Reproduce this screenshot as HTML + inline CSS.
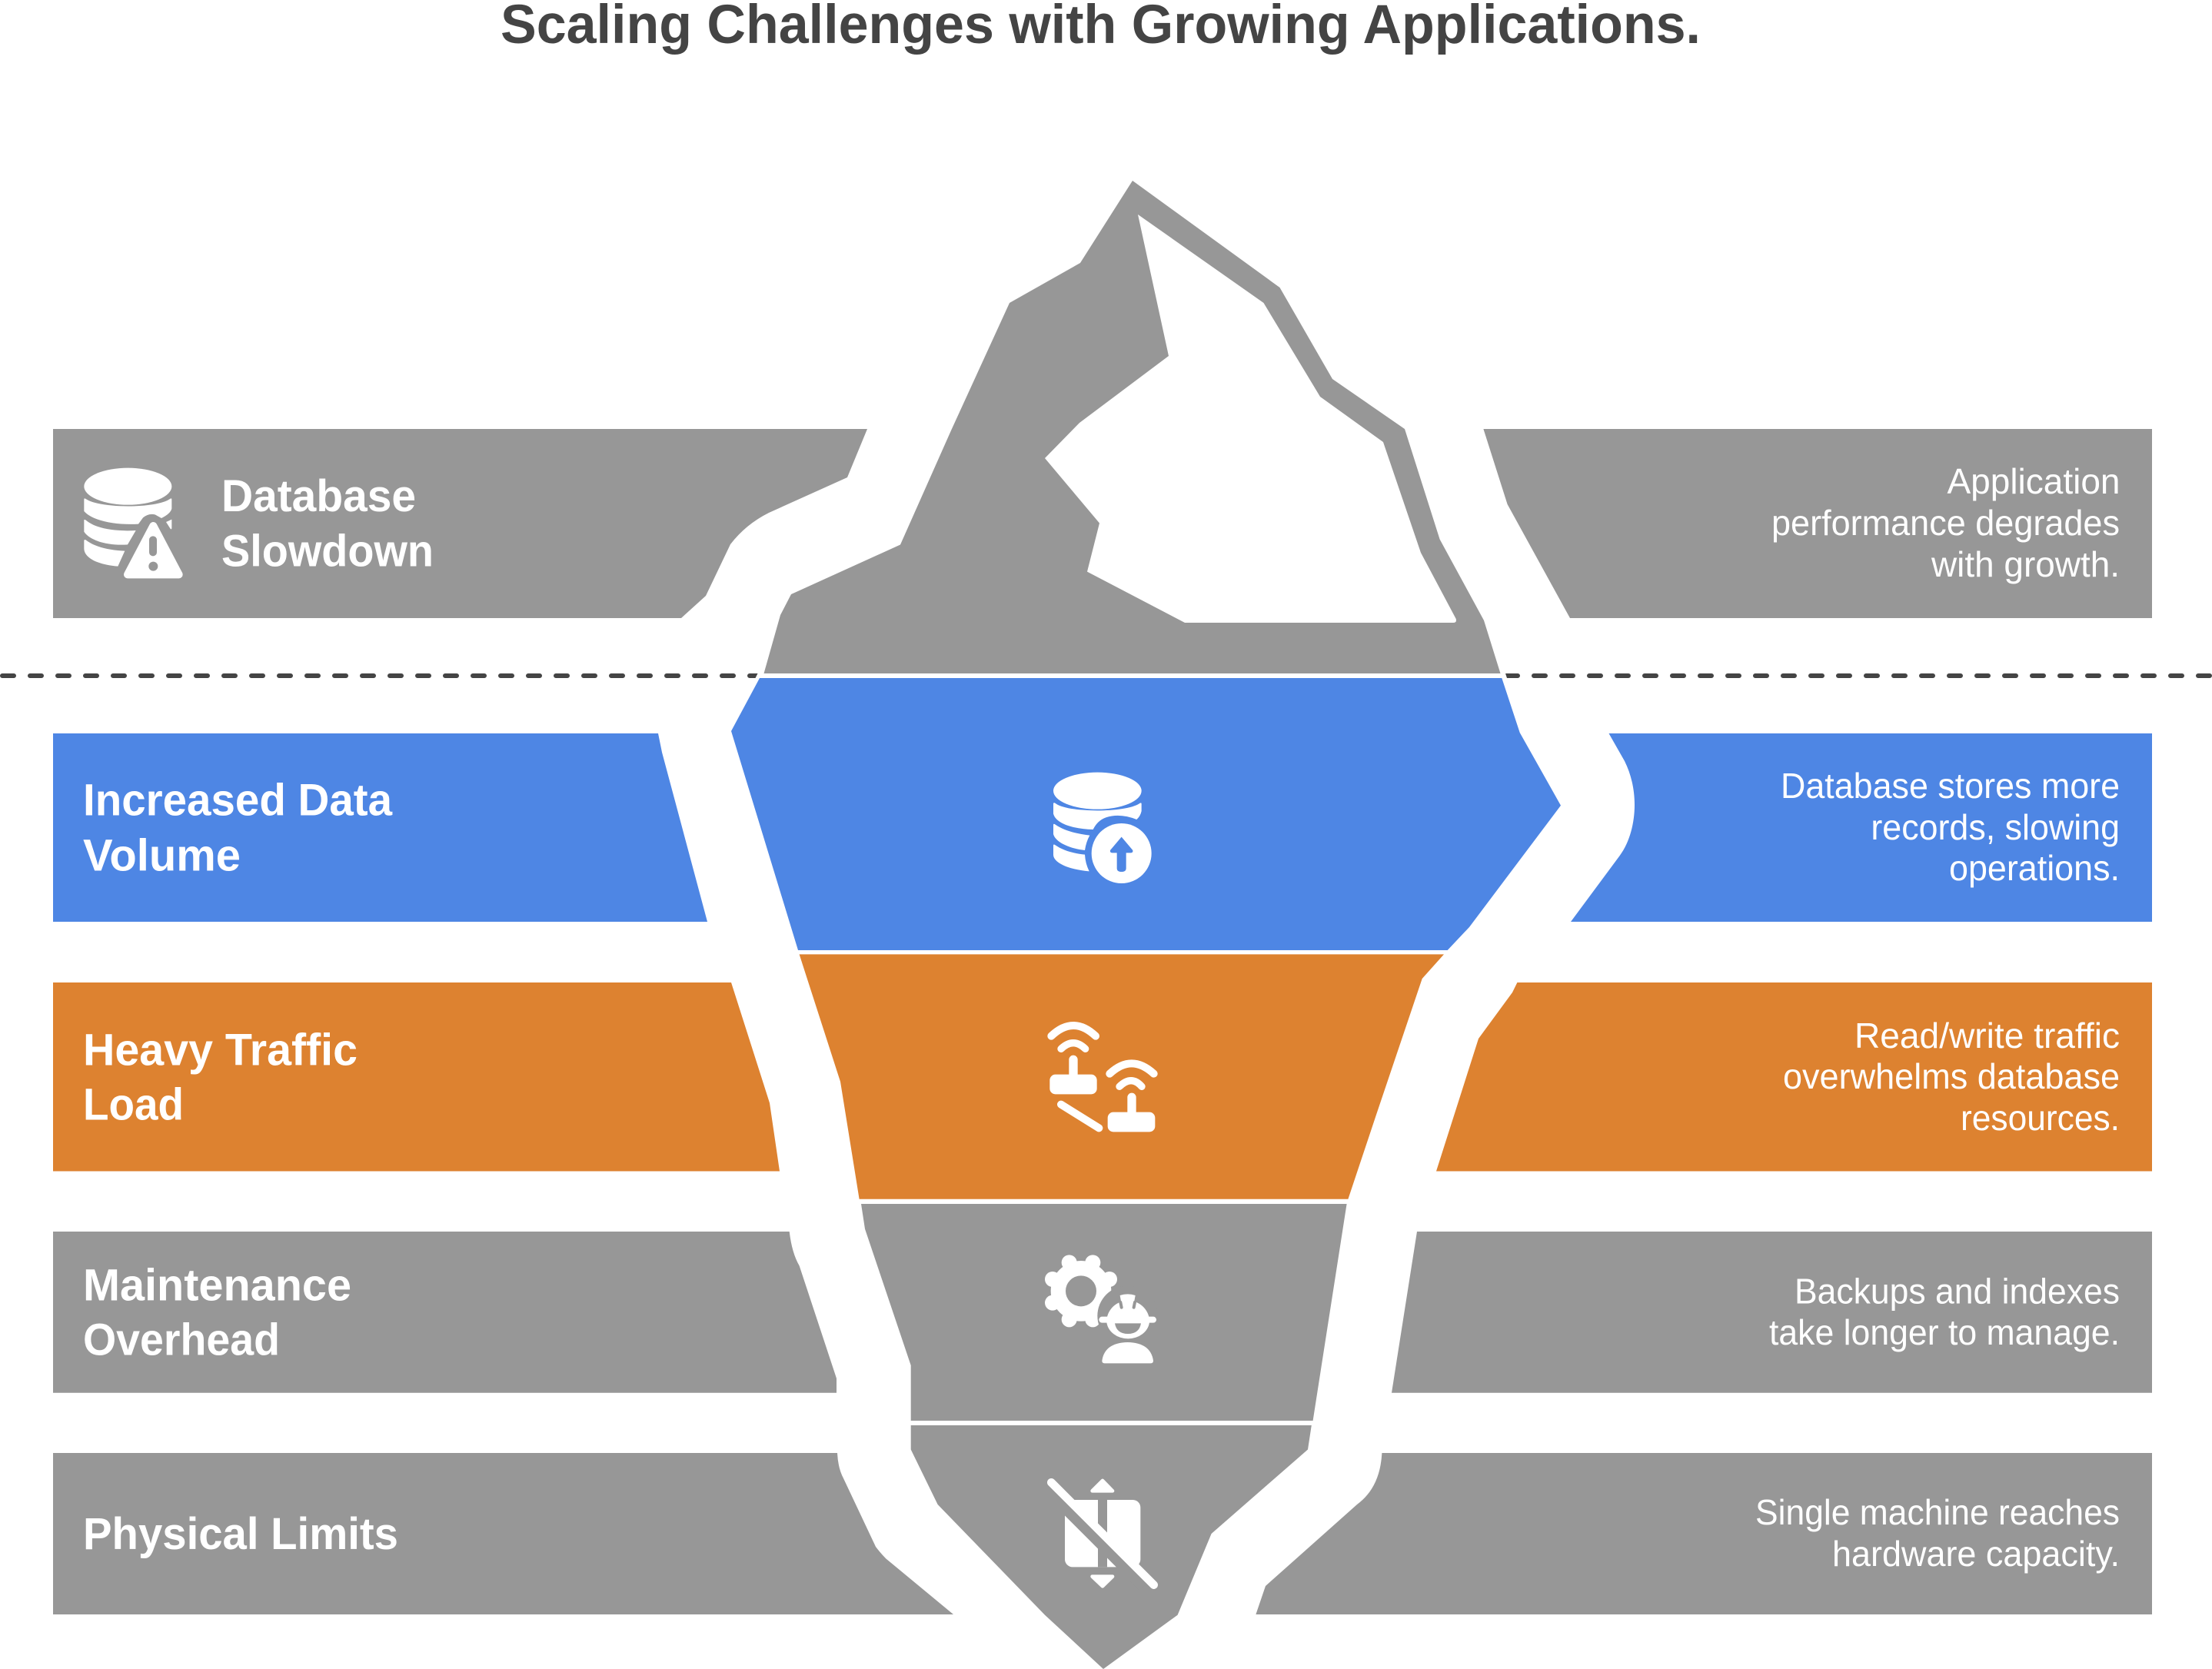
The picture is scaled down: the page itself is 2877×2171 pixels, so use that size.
<!DOCTYPE html>
<html>
<head>
<meta charset="utf-8">
<style>
html,body{margin:0;padding:0;background:#fff;width:2877px;height:2171px;overflow:hidden}
svg{display:block}
text{font-family:"Liberation Sans",sans-serif;fill:#fff}
.h{font-weight:700;font-size:58px}
.d{font-size:46px}
</style>
</head>
<body>
<svg xmlns="http://www.w3.org/2000/svg" width="2877" height="2171" viewBox="0 0 2877 2171">
<defs>
<clipPath id="cl"><polygon points="0,870 988.5,870 981,885 0,885"/></clipPath>
<clipPath id="cr"><polygon points="1956,870 2877,870 2877,885 1961,885"/></clipPath>
</defs>
<rect width="2877" height="2171" fill="#fff"/>
<text x="651" y="56" style="fill:#444;font-weight:700;font-size:71px" textLength="1561" lengthAdjust="spacingAndGlyphs">Scaling Challenges with Growing Applications.</text>

<g stroke="#444" stroke-width="6" stroke-dasharray="15 21" stroke-linecap="round" fill="none">
<g clip-path="url(#cl)"><line x1="3" y1="879" x2="990" y2="879"/></g>
<g clip-path="url(#cr)"><line x1="1959" y1="879" x2="2877" y2="879"/></g>
</g>

<!-- iceberg -->
<path fill="#979797" d="M1473 235L1405 342L1313 394L1237 560L1171 708.5L1029 773L1015 800L993.5 876H1951.5L1930 807L1872.6 701.5L1827 558L1733 493L1664.5 374Z"/>
<path fill="#fff" d="M1480 279L1643.5 394L1717 516L1799 575L1848 719L1893.7 805Q1895 810 1890 810H1541L1414 743.6L1430 680.5L1359 596L1404 550L1520 463Z"/>
<path fill="#4e86e4" d="M988 882H1953.3L1976.7 953L2030 1047.7L1911 1206L1882.7 1236H1038L951 951Z"/>
<path fill="#dd8230" d="M1039.6 1241.4H1878L1849.7 1273L1790 1450L1753.4 1559.7H1117.6L1093 1407Z"/>
<path fill="#979797" d="M1120 1566H1751.6L1707.6 1848H1184.7V1776L1125 1598.6Z"/>
<path fill="#979797" d="M1184.7 1854H1705.8L1701 1885.5L1575.6 1995L1531.6 2100.7L1435 2171L1359 2100.7L1219.6 1957L1184.7 1885.5Z"/>

<!-- left bars -->
<path fill="#979797" d="M69 558H1128L1102 621L1000 667Q970 682 950 708L918 775L886 804H69Z"/>
<path fill="#4e86e4" d="M69 954H856L861 978.6L920 1199H69Z"/>
<path fill="#dd8230" d="M69 1278H951L1001 1434.7L1014 1523.5H69Z"/>
<path fill="#979797" d="M69 1602H1026.7Q1030 1630 1039.6 1646.4L1088 1793V1811.7H69Z"/>
<path fill="#979797" d="M69 1890H1089Q1090 1910 1097 1923L1139 2012Q1145 2020 1152.5 2027.6L1240 2100H69Z"/>

<!-- right bars -->
<path fill="#979797" d="M1929.4 558H2799V804H2042L1960.6 656Z"/>
<path fill="#4e86e4" d="M2092.5 954H2799V1199H2043L2106.7 1113C2120 1095 2126 1070 2126 1047C2126 1028 2122 1008 2113 990Z"/>
<path fill="#dd8230" d="M1973.4 1278H2799V1523.5H1868L1923 1351L1967 1291Z"/>
<path fill="#979797" d="M1843 1602H2799V1811.7H1810Z"/>
<path fill="#979797" d="M1797.4 1890H2799V2100H1633.4L1646 2063L1765 1957Q1795 1935 1797.4 1890Z"/>

<!-- left labels -->
<text class="h" x="288" y="665" textLength="253" lengthAdjust="spacingAndGlyphs">Database</text>
<text class="h" x="288" y="736.5" textLength="276" lengthAdjust="spacingAndGlyphs">Slowdown</text>
<text class="h" x="108" y="1060.5" textLength="402" lengthAdjust="spacingAndGlyphs">Increased Data</text>
<text class="h" x="108" y="1132.5" textLength="205" lengthAdjust="spacingAndGlyphs">Volume</text>
<text class="h" x="108" y="1385.5" textLength="357" lengthAdjust="spacingAndGlyphs">Heavy Traffic</text>
<text class="h" x="108" y="1456.5" textLength="131" lengthAdjust="spacingAndGlyphs">Load</text>
<text class="h" x="108" y="1691.5" textLength="349" lengthAdjust="spacingAndGlyphs">Maintenance</text>
<text class="h" x="108" y="1762.5" textLength="256" lengthAdjust="spacingAndGlyphs">Overhead</text>
<text class="h" x="108" y="2015" textLength="410" lengthAdjust="spacingAndGlyphs">Physical Limits</text>

<!-- right labels -->
<text class="d" x="2532.5" y="642" textLength="225" lengthAdjust="spacingAndGlyphs">Application</text>
<text class="d" x="2304" y="696" textLength="453" lengthAdjust="spacingAndGlyphs">performance degrades</text>
<text class="d" x="2512" y="750" textLength="245" lengthAdjust="spacingAndGlyphs">with growth.</text>
<text class="d" x="2316" y="1038" textLength="441" lengthAdjust="spacingAndGlyphs">Database stores more</text>
<text class="d" x="2433.4" y="1092" textLength="323.6" lengthAdjust="spacingAndGlyphs">records, slowing</text>
<text class="d" x="2535" y="1145" textLength="222" lengthAdjust="spacingAndGlyphs">operations.</text>
<text class="d" x="2412" y="1363" textLength="345" lengthAdjust="spacingAndGlyphs">Read/write traffic</text>
<text class="d" x="2319" y="1416" textLength="438" lengthAdjust="spacingAndGlyphs">overwhelms database</text>
<text class="d" x="2550" y="1470" textLength="207" lengthAdjust="spacingAndGlyphs">resources.</text>
<text class="d" x="2334" y="1695.5" textLength="423" lengthAdjust="spacingAndGlyphs">Backups and indexes</text>
<text class="d" x="2301" y="1749" textLength="456" lengthAdjust="spacingAndGlyphs">take longer to manage.</text>
<text class="d" x="2283" y="1983" textLength="474" lengthAdjust="spacingAndGlyphs">Single machine reaches</text>
<text class="d" x="2383" y="2037" textLength="374" lengthAdjust="spacingAndGlyphs">hardware capacity.</text>

<!-- icon: database warning -->
<g transform="translate(80 580) scale(.33333)" fill="#fff">
<ellipse cx="259" cy="158" rx="171" ry="72"/>
<path d="M88 208Q88 203 95 207C150 245 370 245 423 207Q430 203 430 208V245Q425 265 390 282L365 268Q340 262 318 280L300 305C200 310 120 290 88 255Z"/>
<path d="M88 290Q88 285 95 290C130 320 200 335 290 330L258 385C180 390 110 370 88 335Z"/>
<path d="M88 370Q88 363 96 368C130 395 190 408 247 410L220 470C150 465 88 440 88 400Z"/>
<path d="M430 287V322Q428 328 424 322L408 297Q420 292 430 287Z"/>
<polygon points="358,312 258,502 458,502" stroke="#fff" stroke-width="30" stroke-linejoin="round"/>
<rect x="342" y="352" width="30" height="78" rx="15" fill="#979797"/>
<circle cx="358" cy="470" r="18" fill="#979797"/>
</g>

<!-- icon: database upload -->
<g transform="translate(1340 980) scale(.33333)" fill="#fff">
<ellipse cx="262" cy="146" rx="172" ry="72"/>
<path d="M90 195Q92 190 100 196C150 232 370 232 425 196Q433 190 434 196V225Q430 245 415 258Q350 232 295 250Q262 262 245 297C170 295 100 275 90 235Z"/>
<path d="M90 280Q90 272 98 278C130 300 170 312 232 320Q218 345 213 378C160 372 100 350 90 315Z"/>
<path d="M90 360Q90 352 98 358C130 380 170 390 213 395Q215 430 230 460C160 455 90 430 90 395Z"/>
<circle cx="356" cy="390" r="117"/>
<path fill="#4e86e4" d="M356 326L400 378Q402 388 392 388H374V448Q374 462 356 462Q338 462 338 448V388H320Q310 388 312 378Z"/>
</g>

<!-- icon: routers -->
<g transform="translate(1340 1310) scale(.33333)" fill="none" stroke="#fff" stroke-linecap="round">
<path d="M82 113Q168 31 255 113" stroke-width="30"/>
<path d="M120 163Q168 117 215 163" stroke-width="28"/>
<line x1="168" y1="205" x2="168" y2="270" stroke-width="34"/>
<rect x="76" y="263" width="184" height="77" rx="22" fill="#fff" stroke="none"/>
<line x1="120" y1="380" x2="268" y2="472" stroke-width="30"/>
<path d="M310 260Q395 180 482 260" stroke-width="30"/>
<path d="M348 310Q395 264 435 310" stroke-width="28"/>
<line x1="396" y1="352" x2="396" y2="415" stroke-width="34"/>
<rect x="302" y="410" width="185" height="77" rx="22" fill="#fff" stroke="none"/>
</g>

<!-- icon: gear and worker -->
<g transform="translate(1340 1620) scale(.33333)" fill="#fff">
<circle cx="198" cy="178" r="118"/>
<circle cx="152" cy="67" r="30"/><circle cx="244" cy="67" r="30"/>
<circle cx="309" cy="132" r="30"/><circle cx="309" cy="224" r="30"/>
<circle cx="244" cy="289" r="30"/><circle cx="152" cy="289" r="30"/>
<circle cx="87" cy="224" r="30"/><circle cx="87" cy="132" r="30"/>
<circle cx="198" cy="178" r="60" fill="#979797"/>
<circle cx="380" cy="275" r="118" fill="#979797"/>
<path d="M298 290A84 84 0 0 1 465 290Z"/>
<path d="M350 195Q380 185 410 195L402 240H358Z"/>
<g stroke="#979797" stroke-width="12" stroke-linecap="round"><line x1="352" y1="222" x2="356" y2="242"/><line x1="408" y1="222" x2="404" y2="242"/></g>
<rect x="268" y="278" width="224" height="24" rx="12"/>
<path d="M298 300H465A84 72 0 0 1 298 300Z"/>
<path d="M330 304H432Q425 345 381 345Q337 345 330 304Z" fill="#979797"/>
<path d="M280 450Q290 380 380 378Q470 380 480 450Q480 460 470 460H290Q280 460 280 450Z"/>
</g>

<!-- icon: no resize -->
<g transform="translate(1340 1900) scale(.33333)" fill="#fff">
<rect x="135" y="153" width="295" height="262" rx="30"/>
<rect x="264" y="153" width="36" height="262" fill="#979797"/>
<line x1="100" y1="152" x2="440" y2="492" stroke="#979797" stroke-width="39"/>
<line x1="82" y1="85" x2="482" y2="485" stroke="#fff" stroke-width="32" stroke-linecap="round"/>
<polygon points="282,78 242,118 321,118" stroke="#fff" stroke-width="14" stroke-linejoin="round"/>
<polygon points="242,452 321,452 282,490" stroke="#fff" stroke-width="14" stroke-linejoin="round"/>
</g>
</svg>
</body>
</html>
